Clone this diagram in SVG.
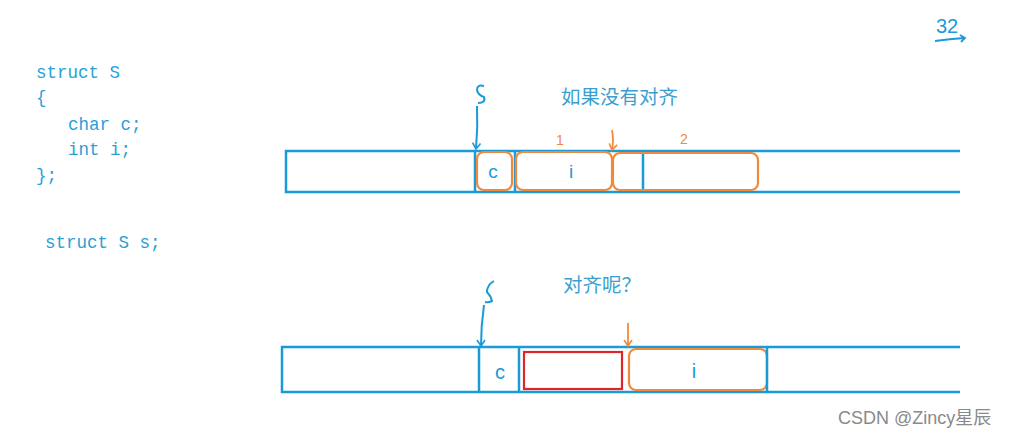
<svg xmlns="http://www.w3.org/2000/svg" width="1021" height="438" viewBox="0 0 1021 438">
<style>
.code{font-family:"Liberation Mono",monospace;font-size:17.5px;fill:#2a9fd6}
.cn{font-family:"Noto Sans CJK SC",sans-serif;font-size:19.5px;fill:#3a9fd0}
.bl{fill:none;stroke:#1a9ad6;stroke-width:2.5}
.or{fill:none;stroke:#ef8a3c;stroke-width:2.2}
.hand{font-family:"Liberation Sans",sans-serif;fill:#1a9ad6}
.ohand{font-family:"Liberation Sans",sans-serif;fill:#ef8a3c}
</style>
<defs>
<marker id="ab" markerWidth="10" markerHeight="10" refX="8" refY="5" orient="auto" markerUnits="userSpaceOnUse" viewBox="0 0 10 10"><path d="M2,1 L8,5 L2,9" fill="none" stroke="#1a9ad6" stroke-width="1.6"/></marker>
<marker id="ao" markerWidth="10" markerHeight="10" refX="8" refY="5" orient="auto" markerUnits="userSpaceOnUse" viewBox="0 0 10 10"><path d="M2,1 L8,5 L2,9" fill="none" stroke="#ef8a3c" stroke-width="1.6"/></marker>
</defs>
<rect width="1021" height="438" fill="#fff"/>
<g id="code">
<text class="code" x="36" y="78">struct S</text>
<text class="code" x="36" y="103">{</text>
<text class="code" x="68" y="130">char c;</text>
<text class="code" x="68" y="155">int i;</text>
<text class="code" x="36" y="181">};</text>
<text class="code" x="45" y="248">struct S s;</text>
</g>
<g id="mark32">
<text class="hand" x="936" y="33" font-size="20">32</text>
<path d="M935,41 Q950,39 964,38 M960,35 L965,38 L961,42" fill="none" stroke="#1a9ad6" stroke-width="1.8"/>
</g>
<g id="top-row">
<text class="cn" x="561" y="104">如果没有对齐</text>
<path class="bl" d="M960,151 H286 V192 H960 M475,151 V192 M515,151 V192 M643,151 V192"/>
<rect class="or" x="477" y="152" width="35" height="38" rx="7"/>
<rect class="or" x="516" y="152" width="96" height="38" rx="7"/>
<rect class="or" x="613" y="153" width="145" height="37" rx="7"/>
<text class="hand" x="493" y="178" font-size="19" text-anchor="middle">c</text>
<text class="hand" x="571" y="178" font-size="19" text-anchor="middle">i</text>
<text class="ohand" x="560" y="145" font-size="14" text-anchor="middle">1</text>
<text class="ohand" x="684" y="144" font-size="14" text-anchor="middle">2</text>
</g>
<g id="bottom-row">
<text class="cn" x="563" y="292">对齐呢？</text>
<path class="bl" d="M960,347 H282 V392 H960 M479,347 V392 M519,347 V392"/>
<rect x="524" y="352" width="98" height="37" fill="none" stroke="#e0242a" stroke-width="2.2"/>
<rect class="or" x="629" y="349" width="138" height="41" rx="7"/>
<path d="M767,347 V392" class="bl"/>
<text class="hand" x="500" y="379" font-size="20" text-anchor="middle">c</text>
<text class="hand" x="694" y="378" font-size="20" text-anchor="middle">i</text>
</g>
<g id="connectors">
<path d="M484,86 Q477,84 477,90 Q478,95 484,97 Q486,103 478,103" fill="none" stroke="#1a9ad6" stroke-width="2"/>
<path d="M477,106 Q478,127 476,149" fill="none" stroke="#1a9ad6" stroke-width="2" marker-end="url(#ab)"/>
<path d="M612,130 Q614,140 612,150" fill="none" stroke="#ef8a3c" stroke-width="1.8" marker-end="url(#ao)"/>
<path d="M494,281 Q487,285 487,292 Q491,296 492,301 Q488,303 485,302" fill="none" stroke="#1a9ad6" stroke-width="2"/>
<path d="M484,305 Q481,326 481,346" fill="none" stroke="#1a9ad6" stroke-width="2" marker-end="url(#ab)"/>
<path d="M628,323 V346" fill="none" stroke="#ef8a3c" stroke-width="1.8" marker-end="url(#ao)"/>
</g>
<text x="838" y="424" font-family="Liberation Sans,'Noto Sans CJK SC',sans-serif" font-size="18" fill="#8a8a8a">CSDN @Zincy星辰</text>
</svg>
